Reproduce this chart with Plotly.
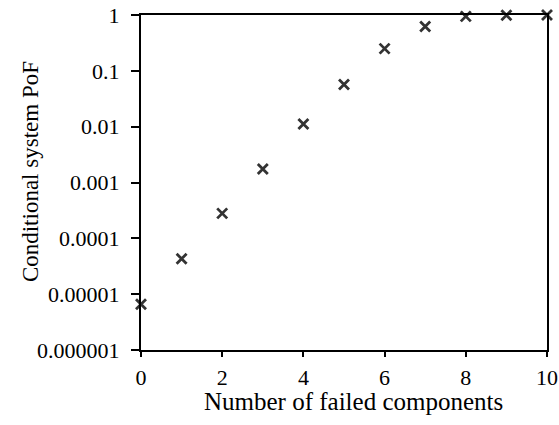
import plotly.graph_objects as go

failed_components = [0, 1, 2, 3, 4, 5, 6, 7, 8, 9, 10]
system_pof = [6.6e-6, 4.3e-5, 2.8e-4, 1.75e-3, 0.0112, 0.057, 0.25, 0.625, 0.945, 0.99, 1.0]

y_tickvals = [1e-6, 1e-5, 1e-4, 1e-3, 1e-2, 1e-1, 1]
y_ticktext = ["0.000001", "0.00001", "0.0001", "0.001", "0.01", "0.1", "1"]
x_tickvals = [0, 2, 4, 6, 8, 10]

x_title = "Number of failed components"
y_title = "Conditional system PoF"

font_family = "Liberation Serif, Times New Roman, serif"

fig = go.Figure()
fig.add_trace(go.Scatter(
    x=failed_components,
    y=system_pof,
    mode="markers",
    marker=dict(symbol="x-thin-open", size=10,
                line=dict(width=2.8, color="#333333"), color="#333333"),
    cliponaxis=False,
    showlegend=False,
))

fig.update_layout(
    width=559, height=425,
    margin=dict(l=141, r=12, t=15, b=75),
    paper_bgcolor="white", plot_bgcolor="white",
    font=dict(family=font_family, size=22, color="black"),
    xaxis=dict(
        range=[0, 10], tickvals=x_tickvals, automargin=False,
        showgrid=False, zeroline=False,
        showline=True, linecolor="black", linewidth=2, mirror=True,
        ticks="outside", ticklen=5, tickwidth=1.5, tickcolor="black",
        ticklabelstandoff=2,
    ),
    yaxis=dict(
        type="log", range=[-6, 0], automargin=False,
        tickvals=y_tickvals, ticktext=y_ticktext,
        showgrid=False, zeroline=False,
        showline=True, linecolor="black", linewidth=2, mirror=True,
        ticks="outside", ticklen=8, tickwidth=1.5, tickcolor="black",
        ticklabelstandoff=7,
    ),
    annotations=[
        dict(text=x_title, xref="paper", yref="paper", x=0.5246, y=-0.155,
             xanchor="center", yanchor="middle", showarrow=False,
             font=dict(size=25)),
        dict(text=y_title, xref="paper", yref="paper", x=-0.2734, y=0.534,
             xanchor="center", yanchor="middle", showarrow=False, textangle=-90,
             font=dict(size=23)),
    ],
)

fig.write_html("out.html")
